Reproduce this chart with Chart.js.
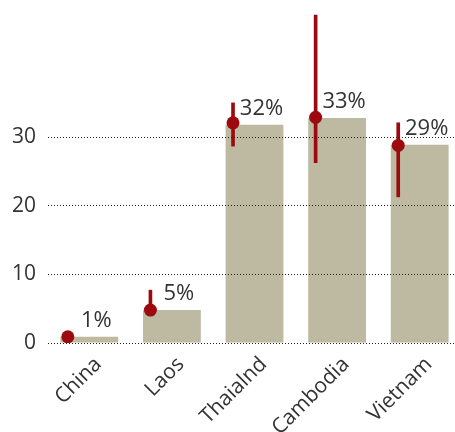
<!DOCTYPE html>
<html>
<head>
<meta charset="utf-8">
<script src="https://cdn.jsdelivr.net/npm/chart.js@4.4.0/dist/chart.umd.min.js"></script>
<style>
  html, body { margin: 0; padding: 0; background: #ffffff; overflow: hidden; }
  #wrap { position: relative; width: 461px; height: 432px; }
</style>
</head>
<body>
<div id="wrap"><canvas id="chart"></canvas></div>
<script>
// Countries on the horizontal axis
const categories = ['China', 'Laos', 'Thaialnd', 'Cambodia', 'Vietnam'];
// Bar heights (percent)
const barValues = [0.9, 4.8, 31.8, 32.8, 28.9];
// Point estimates shown as red dots
const pointValues = [0.9, 4.8, 32.1, 32.9, 28.8];
// Interval bounds drawn as red vertical lines
const lowValues = [0.9, 4.8, 28.7, 26.3, 21.3];
const highValues = [0.9, 7.7, 35.0, 47.8, 32.1];
// Visible y-axis ticks
const yTicks = [0, 10, 20, 30];

const RED = '#9c0a10';
const BAR = '#bdbaa1';
const TEXT = '#333333';
const FONT = 'Open Sans';
const SHIFT = -0.26; // dots sit left of each bar's centre

const pointData = pointValues.map((v, i) => ({ x: i + SHIFT, y: v }));
const rangeData = lowValues.map((lo, i) => ({ x: i + SHIFT, y: [lo, highValues[i]] }));

// Percent labels just above each bar, nudged slightly right of centre
const valueLabels = {
  id: 'valueLabels',
  afterDatasetsDraw(chart) {
    const meta = chart.getDatasetMeta(0);
    const ctx = chart.ctx;
    ctx.save();
    ctx.font = '22px "' + FONT + '"';
    ctx.fillStyle = TEXT;
    ctx.textAlign = 'center';
    ctx.textBaseline = 'middle';
    meta.data.forEach((bar, i) => {
      ctx.fillText(Math.round(barValues[i]) + '%', bar.x + 7, bar.y - 16);
    });
    ctx.restore();
  }
};

new Chart(document.getElementById('chart'), {
  type: 'bar',
  data: {
    labels: categories,
    datasets: [
      {
        data: barValues,
        backgroundColor: BAR,
        barPercentage: 0.7,
        categoryPercentage: 1,
        grouped: false,
        order: 3
      },
      {
        data: rangeData,
        xAxisID: 'x2',
        backgroundColor: RED,
        barThickness: 3,
        grouped: false,
        order: 2
      },
      {
        type: 'scatter',
        data: pointData,
        xAxisID: 'x2',
        backgroundColor: RED,
        borderColor: RED,
        borderWidth: 0,
        pointRadius: 6.5,
        pointHoverRadius: 6.5,
        order: 1
      }
    ]
  },
  options: {
    responsive: true,
    maintainAspectRatio: false,
    animation: false,
    layout: { autoPadding: false, padding: 0 },
    plugins: { legend: { display: false }, tooltip: { enabled: false } },
    scales: {
      x: {
        type: 'category',
        offset: true,
        grid: { display: false },
        border: { display: false },
        ticks: {
          color: TEXT,
          font: { family: FONT, size: 21 },
          minRotation: 45,
          maxRotation: 45,
          padding: 1,
          labelOffset: 9
        },
        afterFit(scale) {
          scale.height = 89;
          scale.paddingLeft = 0;
          scale.paddingRight = 0;
        }
      },
      x2: {
        type: 'linear',
        display: false,
        offset: false,
        min: -0.5,
        max: 4.5
      },
      y: {
        min: 0,
        max: 50,
        // dotted reference lines run over the bars
        grid: { color: '#222222', lineWidth: 1, drawTicks: false, z: 1 },
        afterBuildTicks(scale) { scale.ticks = yTicks.map(v => ({ value: v })); },
        border: { display: false, dash: [1, 2] },
        ticks: {
          color: TEXT,
          font: { family: FONT, size: 21 },
          padding: 12
        },
        afterFit(scale) {
          scale.width = 48;
          scale.paddingTop = 0;
          scale.paddingBottom = 0;
        }
      }
    }
  },
  plugins: [valueLabels]
});
</script>
</body>
</html>
